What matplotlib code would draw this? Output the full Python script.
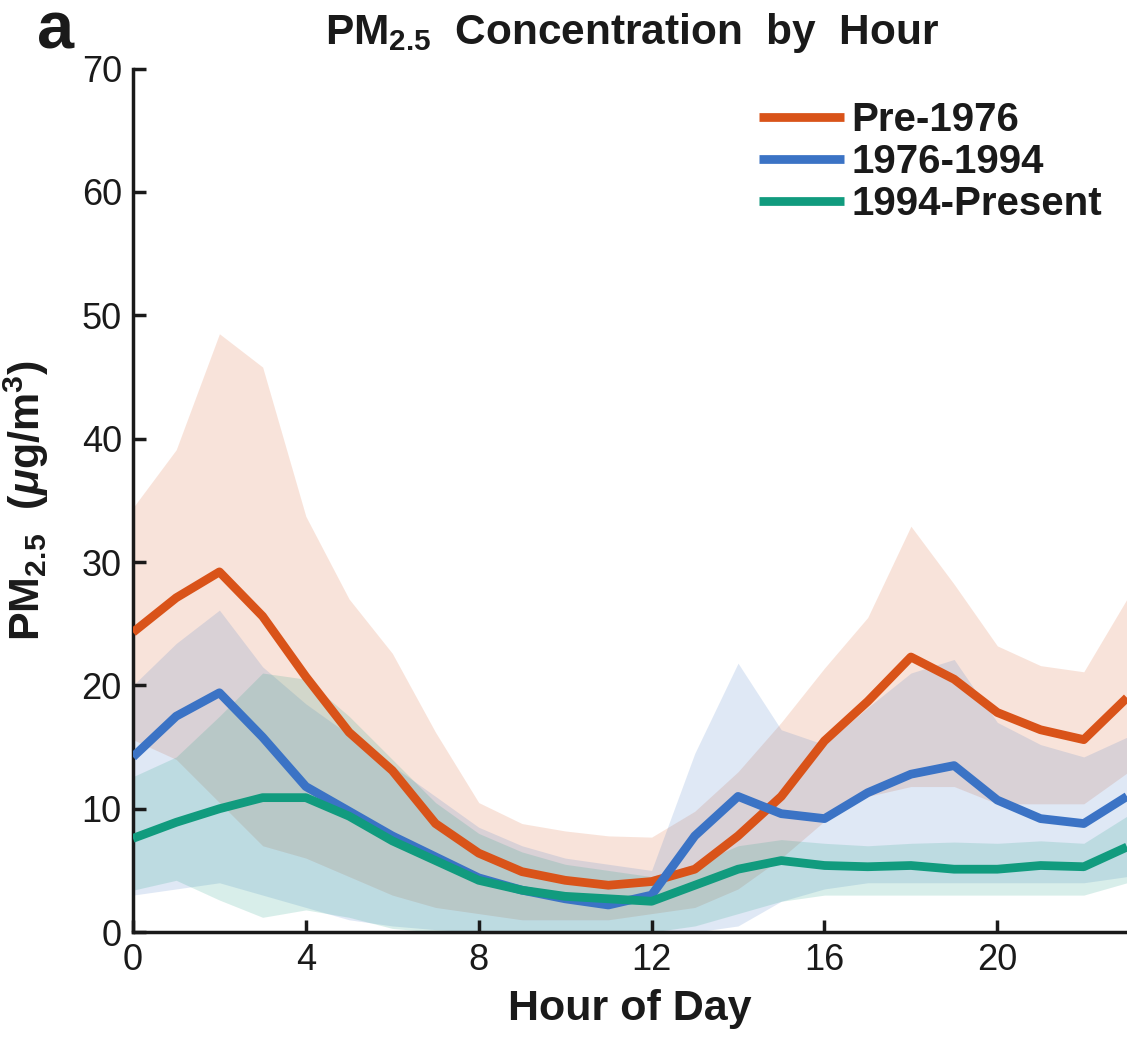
import matplotlib
matplotlib.use("Agg")
import matplotlib.pyplot as plt
import numpy as np

plt.rcParams["font.family"] = ["Liberation Sans", "DejaVu Sans"]
plt.rcParams["mathtext.fontset"] = "custom"
plt.rcParams["mathtext.default"] = "regular"
plt.rcParams["mathtext.it"] = "Liberation Sans:italic:bold"

hours = np.arange(24)

# Pre-1976
pre_mean = [24.3, 27.1, 29.2, 25.6, 20.7, 16.2, 13.1, 8.8, 6.4, 4.9, 4.2, 3.8,
            4.1, 5.1, 7.8, 11.0, 15.5, 18.7, 22.3, 20.5, 17.8, 16.4, 15.6, 19.0]
pre_upper = [34.4, 39.1, 48.5, 45.8, 33.7, 27.0, 22.6, 16.2, 10.5, 8.8, 8.2, 7.8,
             7.7, 9.8, 13.0, 17.0, 21.4, 25.5, 32.9, 28.2, 23.2, 21.6, 21.1, 27.0]
pre_lower = [15.6, 14.0, 10.5, 7.0, 6.0, 4.5, 3.0, 2.0, 1.5, 1.0, 1.0, 1.0,
             1.5, 2.0, 3.5, 6.0, 9.0, 11.0, 11.8, 11.8, 10.4, 10.4, 10.4, 12.9]

# 1976-1994
mid_mean = [14.2, 17.5, 19.4, 15.8, 11.8, 9.8, 7.8, 6.1, 4.4, 3.4, 2.7, 2.2,
            3.0, 7.8, 11.0, 9.6, 9.2, 11.3, 12.8, 13.5, 10.7, 9.2, 8.8, 11.0]
mid_upper = [20.0, 23.4, 26.1, 21.5, 18.5, 16.0, 13.5, 11.0, 8.5, 7.0, 6.0, 5.5,
             5.0, 14.5, 21.8, 16.4, 15.2, 18.2, 21.0, 22.1, 17.0, 15.2, 14.2, 15.8]
mid_lower = [3.0, 3.5, 4.0, 3.0, 2.0, 1.0, 0.5, 0.2, 0.0, 0.0, 0.0, 0.0,
             0.0, 0.0, 0.5, 2.5, 3.5, 4.0, 4.0, 4.0, 4.0, 4.0, 4.0, 4.5]

# 1994-Present
new_mean = [7.6, 8.9, 10.0, 10.9, 10.9, 9.4, 7.4, 5.8, 4.2, 3.4, 2.9, 2.7,
            2.5, 3.8, 5.1, 5.8, 5.4, 5.3, 5.4, 5.1, 5.1, 5.4, 5.3, 6.9]
new_upper = [12.6, 14.2, 17.5, 21.0, 20.5, 17.5, 14.0, 10.5, 8.0, 6.5, 5.5, 5.0,
             4.5, 5.5, 7.0, 7.5, 7.2, 7.0, 7.2, 7.3, 7.2, 7.4, 7.2, 9.4]
new_lower = [3.4, 4.2, 2.6, 1.2, 1.8, 1.2, 0.3, 0.0, 0.0, 0.0, 0.0, 0.0,
             0.0, 0.5, 1.5, 2.5, 3.0, 3.0, 3.0, 3.0, 3.0, 3.0, 3.0, 4.0]

labels = ["Pre-1976", "1976-1994", "1994-Present"]
colors = ["#D95319", "#3B73C5", "#119B7E"]

fig = plt.figure(figsize=(11.27, 10.38), dpi=100)
ax = fig.add_axes([0.118, 0.102, 0.882, 0.832])

series = [
    (pre_mean, pre_lower, pre_upper),
    (mid_mean, mid_lower, mid_upper),
    (new_mean, new_lower, new_upper),
]

# shaded ranges first, mean lines on top
for (m, lo, up), c in zip(series, colors):
    ax.fill_between(hours, lo, up, color=c, alpha=0.16, lw=0, zorder=1)

for (m, lo, up), c, lab in zip(series, colors, labels):
    ax.plot(hours, m, color=c, lw=6.3, label=lab, zorder=3,
            solid_joinstyle="round", solid_capstyle="butt")

ax.set_xlim(0, 23)
ax.set_ylim(0, 70)
ax.set_xticks([0, 4, 8, 12, 16, 20])
ax.set_yticks(np.arange(0, 71, 10))
ax.tick_params(direction="in", length=9, width=2.5, labelsize=26,
               colors="#1a1a1a", pad=8)
for s in ["top", "right"]:
    ax.spines[s].set_visible(False)
for s in ["left", "bottom"]:
    ax.spines[s].set_linewidth(2.5)
    ax.spines[s].set_color("#1a1a1a")

ax.set_xlabel("Hour of Day", fontsize=31, fontweight="bold", labelpad=8,
              color="#1a1a1a")
ax.set_ylabel(r"PM$_{2.5}$  ($\mathit{\mu}$g/m$^3$)", fontsize=31,
              fontweight="bold", color="#1a1a1a")
ax.yaxis.set_label_coords(-0.082, 0.5)
fig.text(0.561, 0.968, r"PM$_{2.5}$  Concentration  by  Hour", fontsize=30.5,
         fontweight="bold", ha="center", va="center", color="#1a1a1a")
fig.text(0.033, 0.97, "a", fontsize=48, fontweight="bold", ha="left",
         va="center", color="#1a1a1a")

leg = fig.legend(loc="upper right", bbox_to_anchor=(0.978, 0.903),
                 frameon=False, fontsize=29, handlelength=2.1,
                 handletextpad=0.2, labelspacing=0.1, borderpad=0,
                 borderaxespad=0)
for t in leg.get_texts():
    t.set_fontweight("bold")
    t.set_color("#1a1a1a")
for h in leg.get_lines():
    h.set_linewidth(6.3)

fig.savefig("out.png", dpi=100)
